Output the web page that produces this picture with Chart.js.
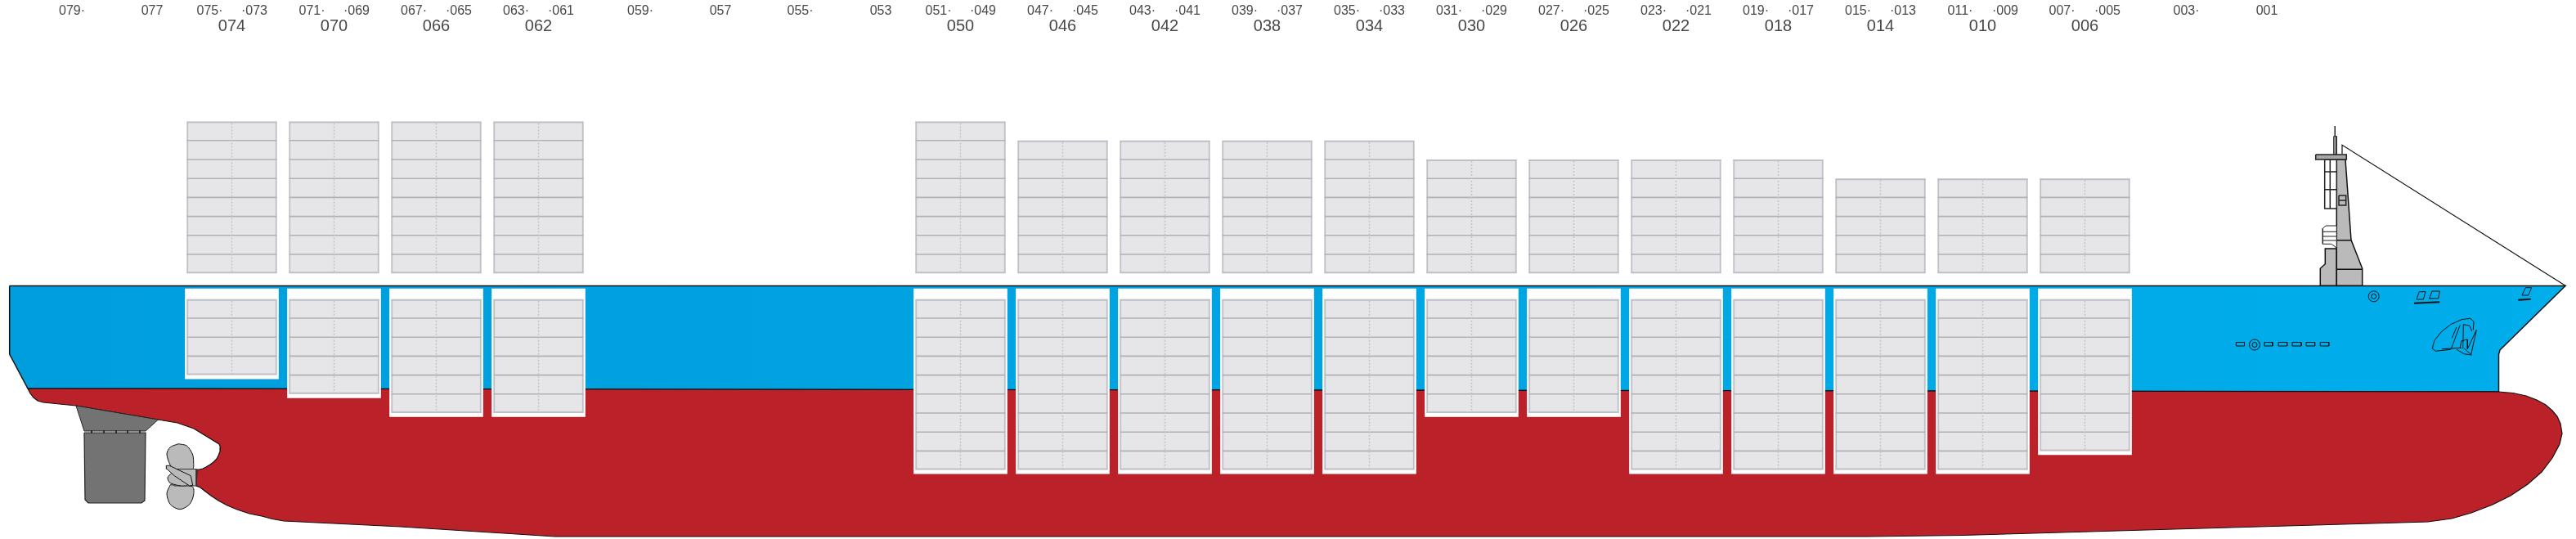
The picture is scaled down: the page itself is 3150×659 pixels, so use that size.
<!DOCTYPE html>
<html>
<head>
<meta charset="utf-8">
<title>Bay plan</title>
<script src="https://cdn.jsdelivr.net/npm/chart.js@4"></script>
<style>
  html, body { margin: 0; padding: 0; background: #fff; }
  canvas { display: block; }
</style>
</head>
<body>
<canvas id="shipChart" width="3150" height="659"></canvas>
<script>
// bays and how many tiers stand above / below deck
var bays = ['074','070','066','062','050','046','042','038','034','030','026','022','018','014','010','006'];
var bayStations = [283.5,408.5,533.5,658.5,1174.5,1299.5,1424.5,1549.5,1674.5,1799.5,1924.5,2049.5,2174.5,2299.5,2424.5,2549.5];
var tiersAbove = [8,8,8,8,8,7,7,7,7,6,6,6,6,5,5,5];
var tiersBelow = [4,5,6,6,9,9,9,9,9,6,6,9,9,9,9,8];

// 20ft slot numbers on the top row
var slotLabels = ['079·','077','075·','·073','071·','·069','067·','·065','063·','·061','059·','057','055·','053','051·','·049','047·','·045','043·','·041','039·','·037','035·','·033','031·','·029','027·','·025','023·','·021','019·','·017','015·','·013','011·','·009','007·','·005','003·','001'];
var slotStations = [88,186,256.5,311,381.5,436,506,561,631,686,783,881,978.5,1077,1147.5,1202,1272,1327,1397,1452,1522,1577,1647,1702,1772,1827,1897,1952,2022,2077,2147,2202,2272,2327,2397,2452,2521.5,2577,2673.5,2772];

var aboveBase = 334.2;
var belowTop = 365.8;
var wellTop = 353;
var tierSize = 23.2;

// outlines, as x,y,x,y...
var topsides = [11.7,349.5, 11.7,433, 34,475, 3055.5,479, 3055.5,433, 3057,428, 3060,425, 3137,349.5];
var lowerHull = [34,475, 37,481, 41,486, 46,490, 53,492, 93,496, 193,513, 217,517, 237,524, 268,543, 269.5,547, 269,552, 267,557, 265,561, 261,565, 257,568, 252,571, 248,573, 244,574, 241,574, 240,594, 245,596, 250,600, 258,606, 267,612, 278,618, 290,623, 305,628, 320,631, 333,634.5, 347,637, 490,644, 679,656, 2283,656, 2400,654.5, 2969,638, 2998,634, 3022,627, 3048,617, 3070,606, 3091,592, 3108,577, 3121,560, 3130,543, 3133,530, 3131,518, 3127,509, 3121,502, 3113,495, 3102,489, 3089,484, 3073,480.5, 3055,479];
var rudderHead = [93,496, 193.5,513, 178,527, 103,527];
var rudderBlade = [103,529, 178,529, 177,612, 173,615, 108,615, 104,611];
var rudderPins = [112,526,112,530,null,null,127,526,127,530,null,null,142,526,142,530,null,null,156,526,156,530,null,null,171,526,171,530];
var propUpper = [218.3,542.7, 228.3,545, 235.3,555, 236.7,565, 235.3,574, 213,574, 208.3,569, 204,555, 208.3,546.7, 218.3,542.7];
var propLower = [208.3,592.7, 204,603.3, 208.3,616.7, 220,622.7, 231.7,616.7, 236.7,605, 235.3,595, 208.3,592.7];
var propHub = [213,573.5, 240,573.5, 240,594, 213,594];
var propMiddle = [210,578.3, 205,584, 208.3,590.7, 226.7,594, 233,586.7, 210,578.3];
var propTwist = [203.3,569.3, 207.3,569.3, 233.3,581.7, 235.7,593.3, 231.7,594, 213.3,581.7, 204,573.3];

var mastBase = [2837.3,349.3, 2837.3,328.3, 2843.3,322.7, 2843.3,304, 2857.3,304, 2857.3,349.3];
var mastBody = [2857.3,349.3, 2857.3,200, 2853.3,195, 2868,195, 2875,293.3, 2888.7,328.3, 2888.7,349.3];
var mastBands = [2857.3,293.8, 2875,293.8, null,null, 2857.3,329.3, 2888.7,329.3];
var mastPlatform = [2831.7,189, 2869.3,189, 2869.3,195, 2831.7,195];
var mastPole = [2853.7,166.7, 2857.3,166.7, 2857.3,189, 2853.7,189];
var mastAntenna = [2855.3,154, 2855.3,166.7];
var mastCage = [2842.7,195, 2857.3,195, 2857.3,255, 2842.7,255];
var mastCageBars = [2849.3,195, 2849.3,255, null,null, 2842.7,210, 2857.3,210, null,null, 2842.7,231.7, 2857.3,231.7];
var mastWindow = [2860,239, 2868.7,239, 2868.7,251, 2860,251];
var mastWindowBar = [2860,245, 2868.7,245];
var mastLocker = [2857.3,276, 2844,276, 2840.3,279.3, 2840.3,298.3, 2850.7,298.3, 2856,302, 2857.3,304];
var mastLockerBars = [2840.3,283.3, 2857.3,283.3, null,null, 2840.3,289, 2857.3,289, null,null, 2840.3,294, 2857.3,294];
var forestay = [2864,188.3, 2864,177.3, 3137,349.3];

var ringCenters = [2902.7,362.3, 2757,421.5];
var scuttles = [[2734.4,418.5,2744.5,423],[2769,418.5,2779,423],[2786,418.5,2796.7,423],[2803,418.5,2814,423],[2820,418.5,2830.6,423],[2837.3,418.5,2847.8,423]];
var bowPorts = [2955,366, 2958.3,356.7, 2966,356.7, 2963.3,366, 2955,366, null,null, 2970.7,365, 2974,356, 2983.3,356, 2981.7,365, 2970.7,365, null,null, 3084,361, 3088.3,351.7, 3095.7,351.7, 3091.7,361, 3084,361];
var bowRails = [2952,370.7, 2983.3,369.3, null,null, 3079.3,366.7, 3094.7,365.7];
var anchorPocket = [2996.7,427.3, 2978.3,429.3, 2974.3,426, 2976.7,416.7, 2985,406, 2996.7,396.7, 3010,390.7, 3020.7,389.3, 3025,393.3, 3024.3,403.3];
var anchorLines = [2997.3,426.7, 3008.3,397.3, null,null, 3011.7,426.7, 3012.3,396.7, 3020,398.3, 3022.7,405, null,null, 3017.3,426.7, 3028.3,403.3, 3021.7,433.3, null,null, 2986,426.7, 3010,425.3, null,null, 3004,427.3, 3013.3,432.7, 3022.3,434, 3013.3,426, null,null, 3008.3,425, 3010,416.7, 3017.3,415, 3017.3,426.7, null,null, 2998.3,413.3, 3004,400];

function pts(flat) {
    var out = [];
    for (var i = 0; i < flat.length; i += 2) {
        out.push({ x: flat[i], y: flat[i + 1] });
    }
    return out;
}

function closed(flat, fillColor, lineColor, lineWidth, tension) {
    return {
        type: 'scatter', showLine: true, data: pts(flat.concat(flat.slice(0, 2))),
        fill: 'shape', backgroundColor: fillColor, borderColor: lineColor,
        borderWidth: lineWidth === undefined ? 1 : lineWidth,
        tension: tension || 0, pointRadius: 0
    };
}

function open(flat, lineColor, lineWidth, dash) {
    return {
        type: 'scatter', showLine: true, data: pts(flat), fill: false,
        borderColor: lineColor, borderWidth: lineWidth === undefined ? 1 : lineWidth,
        borderDash: dash || [], pointRadius: 0, spanGaps: false
    };
}

var wellBars = [], cellBars = [], tierLines = [], capLines = [], centreLines = [];

bays.forEach(function(bay, i) {
    var x = bayStations[i];
    var above = tiersAbove[i], below = tiersBelow[i];
    var aboveEnd = aboveBase - above * tierSize;
    var belowEnd = belowTop + below * tierSize;

    wellBars.push({ x: x, y: [wellTop, belowEnd + 4.5] });

    for (var t = 0; t < above; t++) {
        var lo = aboveBase - t * tierSize;
        cellBars.push({ x: x, y: [lo - tierSize, lo] });
        if (t > 0) tierLines.push(x - 55, lo, x + 55, lo, null, null);
    }
    for (var b = 0; b < below; b++) {
        var up = belowTop + b * tierSize;
        cellBars.push({ x: x, y: [up, up + tierSize] });
        if (b > 0) tierLines.push(x - 55, up, x + 55, up, null, null);
    }
    capLines.push(x - 55, aboveEnd + 1, x + 55, aboveEnd + 1, null, null);
    capLines.push(x - 55, aboveBase - 1, x + 55, aboveBase - 1, null, null);
    capLines.push(x - 55, belowTop + 1, x + 55, belowTop + 1, null, null);
    capLines.push(x - 55, belowEnd - 1, x + 55, belowEnd - 1, null, null);
    centreLines.push(x, aboveEnd + 2, x, aboveBase - 1, null, null);
    centreLines.push(x, belowTop + 2, x, belowEnd - 1, null, null);
});

var ctx = document.getElementById('shipChart').getContext('2d');

// the hull blue gets a little brighter towards the bow
var blue = ctx.createLinearGradient(0, 0, 3150, 0);
blue.addColorStop(0, '#009edc');
blue.addColorStop(0.5, '#00a4e2');
blue.addColorStop(1, '#00aeeb');

var grey = '#bababa';
var ink = '#111111';

var datasets = [
    closed(topsides, blue, ink, 1.5),
    closed(lowerHull, '#ba2129', ink, 1.2),
    closed(rudderHead, '#737373', '#222222', 1),
    closed(rudderBlade, '#737373', '#222222', 1.2),
    open(rudderPins, '#222222', 1),
    closed(propUpper, grey, ink, 1, 0.3),
    closed(propLower, grey, ink, 1, 0.3),
    closed(propHub, grey, '#333333', 1),
    closed(propMiddle, grey, ink, 1, 0.3),
    closed(propTwist, grey, ink, 1),
    { type: 'bar', data: wellBars, barThickness: 114, grouped: false, backgroundColor: '#ffffff', borderWidth: 0 },
    { type: 'bar', data: cellBars, barThickness: 110, grouped: false, backgroundColor: '#e6e6e9', borderColor: '#bfbfc7', borderWidth: { left: 2, right: 2, top: 0, bottom: 0 }, borderSkipped: false },
    open(capLines, '#bfbfc7', 2),
    open(tierLines, '#b0b0b8', 1.6),
    open(centreLines, '#c3c3c9', 1.5, [2, 2]),
    open(forestay, ink, 1.2),
    closed(mastBase, grey, ink, 1.5),
    closed(mastBody, grey, ink, 1.5),
    open(mastBands, ink, 1.5),
    closed(mastCage, '#ffffff', '#222222', 1.5),
    open(mastCageBars, '#222222', 1.5),
    closed(mastLocker, '#ffffff', '#222222', 1),
    open(mastLockerBars, '#222222', 1),
    closed(mastPole, '#9c9c9c', '#222222', 1),
    open(mastAntenna, '#222222', 1),
    closed(mastPlatform, '#a6a6a6', '#222222', 1.5),
    closed(mastWindow, grey, '#222222', 1.5),
    open(mastWindowBar, '#222222', 1.5),
    open(bowPorts, ink, 1),
    open(bowRails, ink, 2),
    open(anchorPocket, ink, 1),
    open(anchorLines, ink, 1),
    { type: 'scatter', data: pts(ringCenters), pointRadius: 6.5, pointBorderWidth: 1, pointBorderColor: ink, pointBackgroundColor: 'rgba(0,0,0,0)' },
    { type: 'scatter', data: pts(ringCenters), pointRadius: 3, pointBorderWidth: 1, pointBorderColor: ink, pointBackgroundColor: 'rgba(0,0,0,0)' }
];
scuttles.forEach(function(s) {
    datasets.push(closed([s[0], s[1], s[2], s[1], s[2], s[3], s[0], s[3]], 'rgba(0,0,0,0)', ink, 1));
});

// first dataset is painted last by default, so flip it
datasets.forEach(function(d, i) { d.order = -i; });

function topAxis(stations, labels, fontSize, height, weight) {
    return {
        type: 'linear', axis: 'x', position: 'top', weight: weight,
        min: 0, max: 3150, offset: false,
        grid: { display: false, drawTicks: false },
        border: { display: false },
        afterBuildTicks: function(axis) {
            axis.ticks = stations.map(function(v) { return { value: v }; });
        },
        afterFit: function(axis) { axis.height = height; },
        ticks: {
            autoSkip: false, maxRotation: 0, minRotation: 0, padding: 0,
            color: '#484848',
            font: { family: '"Liberation Sans"', size: fontSize },
            callback: function(value, index) { return labels[index]; }
        }
    };
}

window.shipChart = new Chart(ctx, {
    type: 'scatter',
    data: { datasets: datasets },
    options: {
        responsive: false,
        animation: false,
        devicePixelRatio: 1,
        layout: { padding: 0, autoPadding: false },
        plugins: { legend: { display: false }, tooltip: { enabled: false }, title: { display: false } },
        scales: {
            x: topAxis(bayStations, bays, 20, 21, 0),
            xSlots: topAxis(slotStations, slotLabels, 16, 23, 1),
            y: { type: 'linear', display: false, reverse: true, min: 44, max: 659, grid: { display: false } }
        }
    }
});
</script>
</body>
</html>
